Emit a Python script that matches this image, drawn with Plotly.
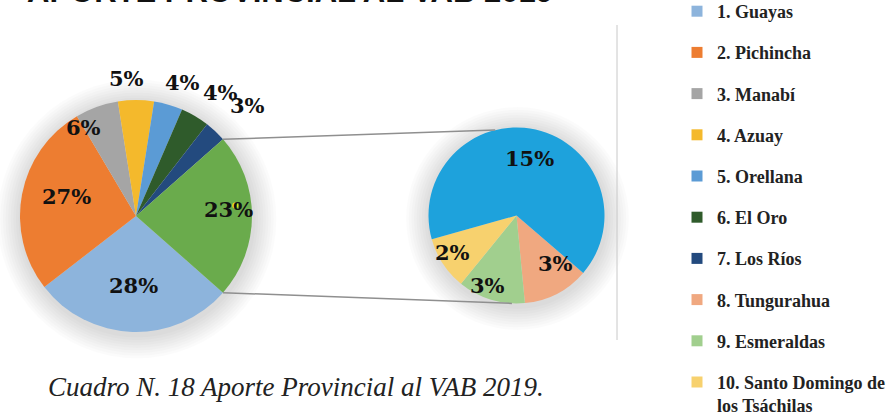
import math
import plotly.graph_objects as go

# ---------------- data ----------------
title_text = "APORTE PROVINCIAL AL VAB 2019"
caption_text = "Cuadro N. 18 Aporte Provincial al VAB 2019."

main_labels = ["1. Guayas", "2. Pichincha", "3. Manabí", "4. Azuay", "5. Orellana",
               "6. El Oro", "7. Los Ríos", "Otras provincias"]
main_values = [28, 27, 6, 5, 4, 4, 3, 23]
main_text = ["28%", "27%", "6%", "5%", "4%", "4%", "3%", "23%"]

sub_labels = ["8. Tungurahua", "9. Esmeraldas", "10. Santo Domingo de los Tsáchilas", "Resto"]
sub_values = [2.8, 2.85, 2.25, 15.1]
sub_text = ["3%", "3%", "2%", "15%"]

legend_labels = ["1. Guayas", "2. Pichincha", "3. Manabí", "4. Azuay", "5. Orellana",
                 "6. El Oro", "7. Los Ríos", "8. Tungurahua", "9. Esmeraldas",
                 "10. Santo Domingo de<br>los Tsáchilas"]

# ---------------- style ----------------
W, H = 889, 414
main_colors = ["#8DB4DC", "#ED7D31", "#A5A5A5", "#F4B92C", "#5B9BD5",
               "#2F5B2B", "#234A7E", "#6AAB4C"]
sub_colors = ["#F0A880", "#A1CF8E", "#F7D16E", "#1EA2DC"]
legend_colors = main_colors[:7] + sub_colors[:3]

main_center, main_r = (136, 216), 116
sub_center, sub_r = (516.5, 215.5), 88
main_rot = 131.4
sub_rot = 130.7

main_label_r = [0.6, 0.62, 0.89, 1.19, 1.22, 1.29, 1.35, 0.8]
main_label_da = [0, 4.6, -11, -4, 3, 4, 2, -4]
sub_label_r = [0.7, 0.86, 0.84, 0.66]
sub_label_da = [-12, 6, 3, 0]

label_font = dict(family="DejaVu Serif", size=21, color="#111111", weight="bold")


def domain(center, r):
    cx, cy = center
    return dict(x=[(cx - r) / W, (cx + r) / W], y=[1 - (cy + r) / H, 1 - (cy - r) / H])


def pt(center, r, ang):
    a = math.radians(ang)
    return center[0] + r * math.sin(a), center[1] - r * math.cos(a)


def slice_mids(values, rot):
    tot = sum(values)
    mids, starts, cur = [], [], rot
    for v in values:
        span = v / tot * 360
        starts.append(cur)
        mids.append(cur + span / 2)
        cur += span
    return starts, mids


fig = go.Figure()

# soft shadow behind pies
shapes = []
for center, r in [(main_center, main_r), (sub_center, sub_r)]:
    for k in range(9, 0, -1):
        rr = r + k * 2.6
        cx, cy = center[0] + 1, center[1] + 3
        shapes.append(dict(type="circle", xref="paper", yref="paper", layer="below",
                           x0=(cx - rr) / W, x1=(cx + rr) / W,
                           y0=1 - (cy + rr) / H, y1=1 - (cy - rr) / H,
                           fillcolor="rgba(0,0,0,0.016)", line=dict(width=0)))

fig.add_trace(go.Pie(labels=main_labels, values=main_values, sort=False,
                     direction="clockwise", rotation=main_rot,
                     marker=dict(colors=main_colors, line=dict(width=0)),
                     textinfo="none", showlegend=False, hoverinfo="label+percent",
                     domain=domain(main_center, main_r)))
fig.add_trace(go.Pie(labels=sub_labels, values=sub_values, sort=False,
                     direction="clockwise", rotation=sub_rot,
                     marker=dict(colors=sub_colors, line=dict(width=0)),
                     textinfo="none", showlegend=False, hoverinfo="label+value",
                     domain=domain(sub_center, sub_r)))

annotations = []
# labels from data angles
starts, mids = slice_mids(main_values, main_rot)
for t, m, rf, da in zip(main_text, mids, main_label_r, main_label_da):
    x, y = pt(main_center, main_r * rf, m + da)
    annotations.append(dict(x=x / W, y=1 - y / H, xref="paper", yref="paper",
                            xanchor="center", yanchor="middle",
                            text=t, showarrow=False, font=label_font))
sstarts, smids = slice_mids(sub_values, sub_rot)
for t, m, rf, da in zip(sub_text, smids, sub_label_r, sub_label_da):
    x, y = pt(sub_center, sub_r * rf, m + da)
    annotations.append(dict(x=x / W, y=1 - y / H, xref="paper", yref="paper",
                            xanchor="center", yanchor="middle",
                            text=t, showarrow=False, font=label_font))

# small yellow dot visible in the source over the 23% label
dot = pt(main_center, main_r * 0.86, mids[-1] - 6)
shapes.append(dict(type="circle", xref="paper", yref="paper",
                   x0=(dot[0] - 3) / W, x1=(dot[0] + 3) / W,
                   y0=1 - (dot[1] + 3) / H, y1=1 - (dot[1] - 3) / H,
                   fillcolor="#F2E21A", line=dict(width=0)))

# connector lines: boundaries of the "others" slice to the second pie
other_start = starts[-1]
other_end = other_start + main_values[-1] / sum(main_values) * 360
p1 = pt(main_center, main_r, other_start)
p2 = pt(main_center, main_r, other_end)
q1 = pt(sub_center, sub_r, 346)
q2 = pt(sub_center, sub_r, 183)
for a, b in [(p1, q1), (p2, q2)]:
    shapes.append(dict(type="line", xref="paper", yref="paper",
                       x0=a[0] / W, y0=1 - a[1] / H, x1=b[0] / W, y1=1 - b[1] / H,
                       line=dict(color="#8f8f8f", width=1.5)))

# chart frame right edge
shapes.append(dict(type="line", xref="paper", yref="paper",
                   x0=617 / W, x1=617 / W, y0=1 - 340 / H, y1=1 - 25 / H,
                   line=dict(color="#c8c8c8", width=1)))

# cut-off title and caption
annotations.append(dict(x=290 / W, y=1 - 11 / H, xref="paper", yref="paper",
                        xanchor="center", yanchor="bottom", text=title_text, showarrow=False,
                        font=dict(family="Liberation Sans", size=31, color="#111111", weight="bold")))
annotations.append(dict(x=46 / W, y=1 - 387 / H, xref="paper", yref="paper",
                        xanchor="left", yanchor="middle", text=caption_text, showarrow=False,
                        font=dict(family="Liberation Serif", size=27, color="#222222",
                                  style="italic")))

# legend entries
for i, (lab, col) in enumerate(zip(legend_labels, legend_colors)):
    fig.add_trace(go.Scatter(x=[None], y=[None], mode="markers", name=lab,
                             legendgroup=str(i), showlegend=True,
                             marker=dict(symbol="square", size=11, color=col)))

fig.update_layout(
    width=W, height=H,
    margin=dict(l=0, r=0, t=0, b=0, autoexpand=False),
    paper_bgcolor="white", plot_bgcolor="white",
    xaxis=dict(visible=False), yaxis=dict(visible=False),
    shapes=shapes, annotations=annotations,
    legend=dict(x=677 / W, y=1 + 7 / H, xanchor="left", yanchor="top",
                tracegroupgap=14.8, valign="top", bgcolor="rgba(0,0,0,0)",
                font=dict(family="Liberation Serif", size=18, color="#222222", weight="bold")),
)
try:
    fig.update_layout(legend_maxheight=600)
except Exception:
    pass

fig.write_html("out.html", config={"displayModeBar": False},
               post_script="document.body.style.margin='0';")
